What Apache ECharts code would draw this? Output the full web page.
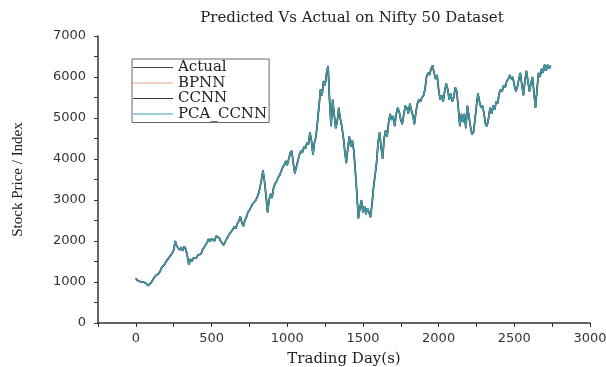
<!DOCTYPE html>
<html>
<head>
<meta charset="utf-8">
<script src="https://cdn.jsdelivr.net/npm/echarts@6/dist/echarts.min.js"></script>
<style>
  html, body { margin: 0; padding: 0; background: #fff; }
  #chart { width: 606px; height: 367px; }
</style>
</head>
<body>
<div id="chart"></div>
<script>
'use strict';
// one reading every 10 trading days
var dayStep = 10;
var seriesNames = ['Actual', 'BPNN', 'CCNN', 'PCA_CCNN'];
var seriesColors = ['#3b4650', '#e3a584', '#2c3a4c', '#3ca3ac'];
var actual = [
    1090, 1040, 1060, 1010, 1050, 1000, 1020, 960, 910, 930,
    980, 1040, 1100, 1150, 1140, 1200, 1260, 1350, 1310, 1430,
    1500, 1460, 1600, 1560, 1700, 1780, 2000, 1880, 1900, 1780,
    1850, 1760, 1870, 1800, 1640, 1420, 1560, 1500, 1580, 1620,
    1580, 1660, 1700, 1680, 1780, 1820, 1900, 1960, 2050, 1980,
    2060, 2100, 2000, 2120, 2150, 2080, 2000, 1960, 1900, 1980,
    2050, 2120, 2180, 2200, 2280, 2350, 2300, 2420, 2480, 2600,
    2450, 2360, 2500, 2580, 2700, 2750, 2820, 2900, 2860, 2980,
    3050, 3150, 3300, 3500, 3720, 3450, 3100, 2700, 3000, 3150,
    3050, 3300, 3400, 3450, 3550, 3600, 3700, 3800, 3850, 3950,
    3850, 4000, 4150, 4200, 3900, 3650, 3800, 3950, 4100, 4200,
    4150, 4300, 4250, 4400, 4350, 4650, 4450, 4100, 4400, 4550,
    4900, 5300, 5700, 5550, 5900, 5800, 6100, 6270, 5400, 4800,
    5450, 5100, 4750, 4900, 5250, 5000, 4800, 4550, 4200, 3900,
    4250, 4550, 4300, 4450, 4200, 3700, 3150, 2550, 2800, 3000,
    2700, 2850, 2650, 2800, 2700, 2580, 2900, 3300, 3600, 3900,
    4400, 4650, 4300, 4000, 4500, 4700, 4550, 4900, 5100, 4950,
    5050, 4800, 5100, 5250, 5150, 4950, 4850, 5100, 5300, 5250,
    5100, 5350, 5200, 5050, 4850, 5150, 5350, 5450, 5400, 5500,
    5550, 5700, 6000, 6100, 6050, 6200, 6280, 6100, 5950, 6050,
    5700, 5450, 5550, 5400, 5650, 5850, 5700, 5450, 5600, 5400,
    5500, 5750, 5650, 5250, 4800, 5100, 4900, 5100, 4750, 5300,
    5050, 4800, 4600, 4650, 4950, 5300, 5600, 5400, 5250, 5300,
    5100, 4850, 4800, 5000, 5250, 5100, 5300, 5200, 5400, 5350,
    5600, 5700, 5650, 5800, 5750, 5900, 5950, 6050, 5950, 6000,
    5800, 5650, 5750, 5950, 6100, 5800, 5550, 5900, 6150, 5900,
    5650, 5850, 6000, 5600, 5250, 5700, 6100, 6000, 6200, 6100,
    6300, 6150, 6300, 6200, 6280
];
// the three predictions sit on top of the actual curve in the picture
var bpnn = actual;
var ccnn = actual;
var pcaCcnn = actual;
var seriesValues = [actual, bpnn, ccnn, pcaCcnn];
var lineWidths = [1.8, 1, 1.3, 1.2];

var serif = '"DejaVu Serif", "Liberation Serif", serif';
var narrowSerif = '"Liberation Serif", "DejaVu Serif", serif';
var sans = '"DejaVu Sans", "Liberation Sans", sans-serif';

function toPairs(arr) {
    var out = [];
    for (var i = 0; i < arr.length; i++) {
        out.push([i * dayStep, arr[i]]);
    }
    return out;
}

var series = [];
for (var k = 0; k < seriesNames.length; k++) {
    series.push({
        name: seriesNames[k],
        type: 'line',
        data: toPairs(seriesValues[k]),
        showSymbol: false,
        symbol: 'none',
        animation: false,
        lineStyle: { color: seriesColors[k], width: lineWidths[k] },
        itemStyle: { color: seriesColors[k] }
    });
}

var chart = echarts.init(document.getElementById('chart'));
chart.setOption({
    backgroundColor: '#fff',
    animation: false,
    title: {
        text: 'Predicted Vs Actual on Nifty 50 Dataset',
        left: 347,
        textAlign: 'center',
        top: 6,
        textStyle: { fontFamily: serif, fontSize: 15, fontWeight: 'normal', color: '#222' }
    },
    legend: {
        orient: 'vertical',
        left: 132,
        top: 59,
        data: seriesNames,
        icon: 'rect',
        itemWidth: 40,
        itemHeight: 1,
        itemGap: 0.5,
        padding: [1, 2, 1, 1],
        borderColor: '#666',
        borderWidth: 1,
        textStyle: { fontFamily: serif, fontSize: 15, lineHeight: 15, color: '#222' }
    },
    grid: { left: 98, right: 16, top: 36, bottom: 44, outerBoundsMode: 'none' },
    xAxis: {
        type: 'value',
        min: -250,
        max: 3000,
        interval: 250,
        name: 'Trading Day(s)',
        nameLocation: 'middle',
        nameGap: 29,
        nameTextStyle: { fontFamily: serif, fontSize: 15, color: '#222' },
        splitLine: { show: false },
        axisLine: { onZero: false, lineStyle: { color: '#333', width: 1.5 } },
        axisTick: { length: 4, lineStyle: { color: '#333' } },
        axisLabel: {
            fontFamily: sans,
            fontSize: 13,
            color: '#333',
            margin: 9,
            formatter: function (v) {
                return (v >= 0 && v % 500 === 0) ? String(v) : '';
            }
        }
    },
    yAxis: {
        type: 'value',
        min: 0,
        max: 7000,
        interval: 500,
        name: 'Stock Price / Index',
        nameLocation: 'middle',
        nameGap: 72,
        nameTextStyle: { fontFamily: narrowSerif, fontSize: 15, color: '#222' },
        splitLine: { show: false },
        axisLine: { show: true, onZero: false, lineStyle: { color: '#333', width: 1.5 } },
        axisTick: { show: true, length: 4, lineStyle: { color: '#333' } },
        axisLabel: {
            fontFamily: sans,
            fontSize: 13,
            color: '#333',
            margin: 12,
            formatter: function (v) {
                return v % 1000 === 0 ? String(v) : '';
            }
        }
    },
    series: series
});
</script>
</body>
</html>
